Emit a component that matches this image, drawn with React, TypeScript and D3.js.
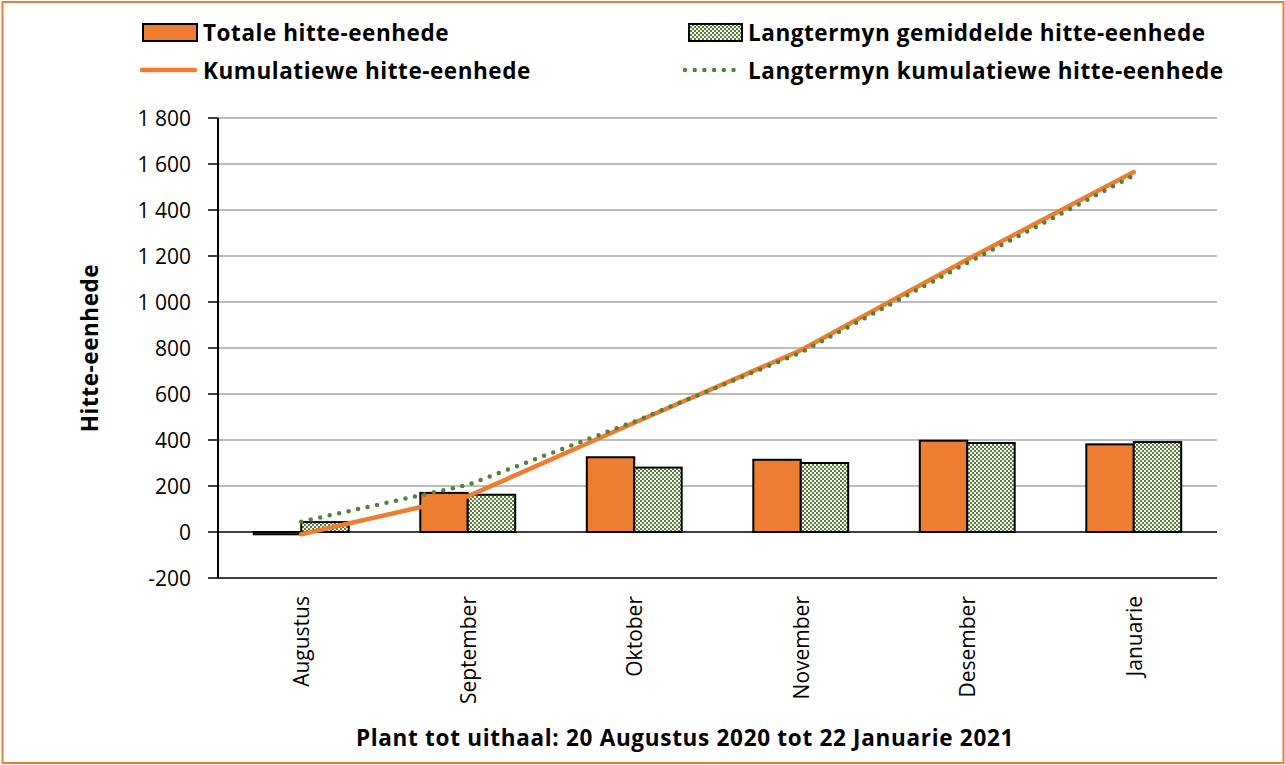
import React from "react";
import * as d3 from "d3";

const months = ["Augustus", "September", "Oktober", "November", "Desember", "Januarie"];
const totalHeat = [-10, 170, 325, 314, 397, 381];
const longTermHeat = [43, 162, 280, 300, 387, 391];
const cumulativeHeat = [-10, 155, 475, 790, 1185, 1565];
const longTermCumulative = [45, 205, 480, 780, 1170, 1550];
const yTicks = [-200, 0, 200, 400, 600, 800, 1000, 1200, 1400, 1600, 1800];

const ORANGE = "#ED7D31";
const GREEN = "#548235";
const FONT = "'Open Sans', Lato, sans-serif";

const fmt = (v: number) => {
  const s = Math.abs(v).toString();
  const withSpace = s.length > 3 ? s.slice(0, s.length - 3) + " " + s.slice(-3) : s;
  return (v < 0 ? "-" : "") + withSpace;
};

export default function App() {
  const W = 1285, H = 765;
  const left = 218, right = 1217, top = 118, bottom = 578;
  const x = d3.scaleBand<string>().domain(months).range([left, right]).paddingInner(0.43).paddingOuter(0.215);
  const y = d3.scaleLinear().domain([-200, 1800]).range([bottom, top]);
  const bw = x.bandwidth() / 2;
  const cx = (m: string) => (x(m) as number) + x.bandwidth() / 2;
  const line = d3.line<number>().x((_, i) => cx(months[i])).y((v) => y(v));
  const bold = { fontFamily: FONT, fontWeight: "bold" as const, fontSize: 22.5, fill: "#000", letterSpacing: 0.55 };

  return (
    <svg width={W} height={H} style={{ display: "block", position: "absolute", left: 0, top: 0 }}>
      <defs>
        <pattern id="check" width="4" height="4" patternUnits="userSpaceOnUse">
          <rect width="4" height="4" fill="#fff" />
          <rect width="2" height="2" fill={GREEN} />
          <rect x="2" y="2" width="2" height="2" fill={GREEN} />
        </pattern>
      </defs>
      <rect x={0} y={0} width={W} height={H} fill="#fff" />
      <rect x={2.5} y={2} width={W - 4} height={H - 4} fill="none" stroke={ORANGE} strokeWidth={2} />

      {/* gridlines */}
      {yTicks.map((t) => (
        <line key={t} x1={left} x2={right} y1={y(t)} y2={y(t)}
          stroke={t === 0 || t === -200 ? "#000" : "#A6A6A6"} strokeWidth={1.5} />
      ))}
      {/* y axis */}
      <line x1={left} x2={left} y1={top} y2={bottom} stroke="#000" strokeWidth={2} />
      {yTicks.map((t) => (
        <g key={"t" + t}>
          <line x1={left - 10} x2={left} y1={y(t)} y2={y(t)} stroke="#000" strokeWidth={1.5} />
          <text x={left - 27} y={y(t)} dy="0.36em" textAnchor="end" fontFamily={FONT} fontSize={21} fill="#000">{fmt(t)}</text>
        </g>
      ))}

      {/* bars */}
      {months.map((m, i) => (
        <g key={m}>
          <rect x={x(m) as number} y={Math.min(y(totalHeat[i]), y(0))} width={bw}
            height={Math.abs(y(totalHeat[i]) - y(0))} fill={ORANGE} stroke="#000" strokeWidth={2} />
          <rect x={(x(m) as number) + bw} y={Math.min(y(longTermHeat[i]), y(0))} width={bw}
            height={Math.abs(y(longTermHeat[i]) - y(0))} fill="url(#check)" stroke="#000" strokeWidth={2} />
        </g>
      ))}

      {/* lines */}
      <path d={line(cumulativeHeat) as string} fill="none" stroke={ORANGE} strokeWidth={4.5} strokeLinecap="round" />
      <path d={line(longTermCumulative) as string} fill="none" stroke={GREEN} strokeWidth={4.5}
        strokeDasharray="0 9.7" strokeLinecap="round" />

      {/* category labels */}
      {months.map((m) => (
        <text key={"l" + m} transform={`translate(${cx(m) + 8},${bottom + 18}) rotate(-90)`} textAnchor="end"
          fontFamily={FONT} fontSize={21} fill="#000">{m}</text>
      ))}

      {/* axis titles */}
      <text x={685} y={746} textAnchor="middle" {...bold} letterSpacing={0.7}>
        Plant tot uithaal: 20 Augustus 2020 tot 22 Januarie 2021
      </text>
      <text transform={`translate(98,${348}) rotate(-90)`} textAnchor="middle" {...bold}>
        Hitte-eenhede
      </text>

      {/* legend */}
      <rect x={143} y={24} width={54} height={17} fill={ORANGE} stroke="#000" strokeWidth={2} />
      <text x={203} y={41} {...bold}>Totale hitte-eenhede</text>
      <rect x={689} y={24} width={53} height={17} fill="url(#check)" stroke="#000" strokeWidth={2} />
      <text x={748} y={41} {...bold}>Langtermyn gemiddelde hitte-eenhede</text>
      <line x1={142} x2={195} y1={70} y2={70} stroke={ORANGE} strokeWidth={4.5} strokeLinecap="round" />
      <text x={203} y={79} {...bold}>Kumulatiewe hitte-eenhede</text>
      <line x1={685} x2={738} y1={70} y2={70} stroke={GREEN} strokeWidth={4.5} strokeDasharray="0 9.7" strokeLinecap="round" />
      <text x={748} y={79} {...bold}>Langtermyn kumulatiewe hitte-eenhede</text>
    </svg>
  );
}
